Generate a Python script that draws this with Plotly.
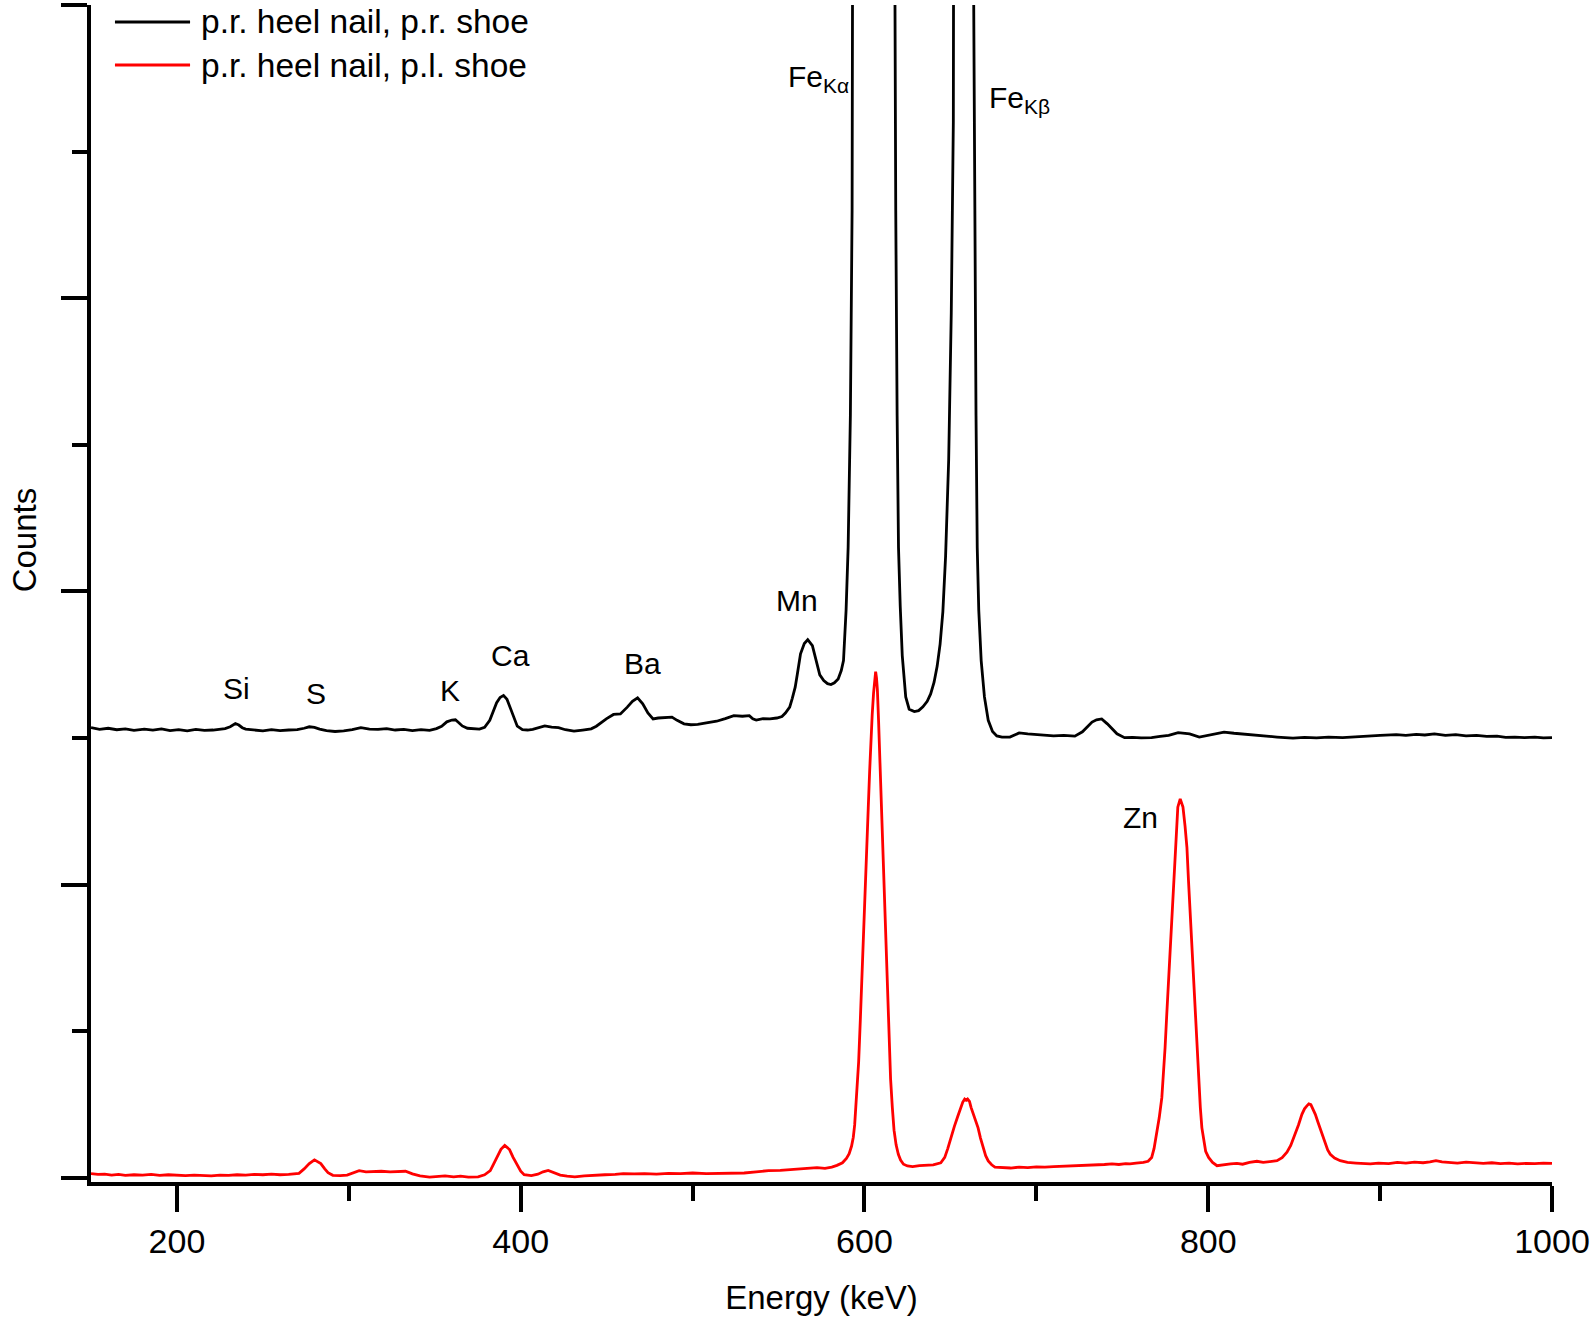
import plotly.graph_objects as go

# ---------------- data ----------------
black_energy = [150, 155, 160, 165, 170, 175, 181, 186, 191, 196, 201, 206, 211, 216, 221, 225, 228, 231, 234, 236,
                238, 240, 245, 250, 255, 260, 265, 270, 274, 277, 280, 283, 287, 292, 297, 302, 307, 312, 317, 322,
                327, 332, 337, 342, 347, 351, 354, 357, 360, 362, 364, 366, 369, 372, 376, 379, 382, 384, 386, 388,
                390, 392, 394, 396, 398, 401, 404, 407, 410, 414, 418, 422, 426, 431, 436, 441, 444, 447, 450, 454,
                458, 462, 465, 468, 471, 474, 477, 480, 484, 488, 491, 495, 499, 503, 508, 514, 519, 524, 529, 533,
                535, 537, 541, 545, 549, 552, 554, 556.5, 558, 559.7, 561, 562.8, 565, 567, 569.7, 572.2, 574, 576.3,
                578.5, 580.5, 582.5, 584.7, 586.5, 587.8, 589.3, 590.5, 591.8, 592.8, 593.5, 594.5, 605, 616.5, 617.6,
                618.2, 619, 619.8, 620.8, 622, 624, 626, 629, 631.5, 634, 636.5, 638.5, 640.5, 642.3, 644, 645.6, 647.2,
                649, 650.5, 651.7, 652.5, 657.5, 662.8, 663.6, 664.3, 664.9, 665.6, 666.5, 667.9, 669.8, 672, 674.5,
                677, 680, 684.6, 687, 690, 695, 700, 705, 710, 716, 722.4, 726.8, 729.5, 732.4, 735, 738, 741.3, 744,
                746.9, 751.3, 756, 761, 767, 772, 777, 782.5, 786, 789.2, 794.8, 799, 802.6, 806, 809.2, 815, 820,
                824.8, 829, 833.7, 840, 849.3, 856, 863, 870, 878.2, 885, 892, 900, 909.4, 915, 921, 926, 931.6, 938,
                944, 950, 956.1, 962, 968, 973, 978.4, 984, 990, 995, 1000]
black_counts = [1535, 1529, 1533, 1528, 1531, 1526, 1530, 1527, 1531, 1525, 1528, 1524, 1529, 1526, 1527, 1530, 1532,
                1538, 1549, 1544, 1535, 1530, 1527, 1524, 1528, 1525, 1527, 1528, 1533, 1538, 1536, 1530, 1525, 1522,
                1524, 1528, 1535, 1530, 1529, 1532, 1527, 1529, 1525, 1528, 1526, 1532, 1540, 1555, 1561, 1562, 1552,
                1541, 1533, 1531, 1530, 1536, 1560, 1590, 1620, 1638, 1645, 1632, 1600, 1568, 1540, 1528, 1527, 1529,
                1535, 1541, 1537, 1535, 1528, 1523, 1527, 1531, 1540, 1554, 1566, 1580, 1582, 1605, 1625, 1637, 1616,
                1585, 1565, 1568, 1570, 1571, 1560, 1548, 1545, 1546, 1551, 1557, 1566, 1576, 1574, 1576, 1565, 1561,
                1566, 1565, 1568, 1573, 1585, 1605, 1635, 1673, 1720, 1787, 1822, 1835, 1815, 1753, 1715, 1696, 1685,
                1682, 1688, 1701, 1730, 1764, 1935, 2150, 2600, 3300, 4100, 6000, 40000, 6000, 4100, 3300, 2600, 2150,
                1950, 1780, 1640, 1598, 1590, 1593, 1606, 1625, 1650, 1690, 1745, 1820, 1930, 2120, 2450,
                2950, 3600, 4800, 25000, 4800, 3900, 3200, 2600, 2150, 1935, 1764, 1640, 1560, 1522,
                1507, 1503, 1503, 1510, 1517,
                1514, 1512, 1510, 1507, 1509, 1506, 1521, 1538, 1554, 1562, 1565, 1548, 1530, 1514, 1501, 1502, 1500,
                1501, 1505, 1509, 1518, 1516, 1514, 1503, 1508, 1514, 1518, 1520, 1516, 1513, 1512, 1509, 1506, 1503,
                1499, 1502, 1500, 1503, 1501, 1504, 1506, 1509, 1511, 1509, 1512, 1510, 1514, 1509, 1511, 1507, 1509,
                1505, 1506, 1502, 1503, 1501, 1503, 1500, 1501]

red_energy = [150, 154, 158, 162, 166, 170, 175, 180, 185, 190, 195, 200, 205, 210, 215, 220, 225, 230, 235, 240,
              245, 250, 255, 260, 265, 268, 271, 274, 277, 280, 282, 283.7, 286, 287.9, 290.7, 295, 299, 302, 306,
              310, 314, 318.9, 324, 328, 333, 337, 341.4, 347, 352, 356, 361, 365, 369.6, 375.2, 379, 382.3, 384.5,
              386.5, 388.5, 390.7, 392.5, 393.5, 395.5, 397.7, 400, 402, 406.2, 410, 413, 416, 419, 423, 427, 431.5,
              437, 443, 449, 455, 459.7, 466, 472, 479, 486, 493, 500, 508, 516, 523, 530, 537, 544.2, 551, 558, 565,
              572.4, 577, 581, 584, 587.2, 589.5, 591.1, 592.5, 593.5, 594.3, 595.1, 596.6, 597.6, 598.6, 599.6,
              600.6, 601.4, 602.2, 603, 603.7, 604.5, 605.3, 606, 606.5, 607, 607.5, 608.2, 608.9, 609.7, 610.5,
              611.2, 612, 612.8, 613.6, 614.4, 615.2, 616.2, 617.2, 618.4, 619.7, 621, 622.7, 625, 628, 632, 636.5,
              640, 644.4, 645.5, 646.7, 648.5, 650.3, 652.3, 654.2, 655.7, 657.2, 658.3, 659.2, 660, 661.1, 662,
              663.1, 664.5, 666.1, 667.5, 669, 670.5, 672, 674, 675.9, 680, 685, 690, 695, 700, 705, 710, 715, 720,
              725, 730, 735, 739.6, 744, 748, 752, 754.5, 758, 762.3, 765, 767.1, 768.5, 770, 771.5, 773, 774, 774.9,
              775.9, 776.9, 777.9, 778.8, 779.8, 780.8, 781.5, 782.3, 783.7, 785.3, 786.5, 787.6, 788.5, 789.5,
              790.5, 791.5, 792.5, 793.4, 794.4, 795.4, 796.3, 797.3, 798.5, 800.2, 802.5, 805.1, 809, 813, 816.7,
              820, 824, 828.3, 832, 836, 840, 843, 845.8, 848, 850.6, 852.5, 854.5, 856, 857.4, 858.5, 859.7, 861,
              862.3, 863.8, 865.2, 866.6, 868.1, 869.5, 871, 873.5, 876.8, 881, 886, 891, 894.3, 899, 905, 910, 915,
              920, 925, 929, 932.5, 936, 940, 945, 950, 955, 960, 965, 970, 975, 980, 985, 990, 995, 1000]
red_counts = [14, 11, 12, 9, 11, 8, 10, 9, 11, 8, 10, 9, 7, 9, 8, 6, 9, 8, 10, 9,
              11, 10, 12, 10, 11, 13, 15, 30, 48, 61, 55, 48, 30, 17, 8, 7, 9, 16, 24,
              20, 21, 22, 20, 22, 22, 13, 6, 2, 4, 6, 3, 5, 2, 3, 10, 24, 50,
              75, 97, 110, 102, 96, 70, 48, 22, 10, 7, 12, 20, 25, 18, 9, 5, 3,
              6, 9, 10, 11, 14, 13, 14, 12, 15, 14, 16, 14, 15, 17, 16, 20, 24, 25, 28, 30,
              34, 32, 36, 42, 51, 66, 82, 108, 138, 180, 243, 394, 540, 683, 830,
              972, 1115, 1261, 1385, 1492, 1580, 1654, 1700, 1726, 1705, 1666, 1560, 1435, 1290, 1146,
              1000, 856, 710, 567, 440, 336, 240, 162, 112, 80, 60, 46, 40, 38, 41, 43,
              44, 51, 58, 69, 100, 138, 175, 208, 237, 258, 268, 264, 268, 260, 240,
              220, 195, 170, 135, 100, 75, 57, 44, 36, 34, 33, 36, 34, 37, 36, 38, 39, 41,
              40, 43, 42, 45, 47, 45, 48, 47, 50, 52, 56, 69, 100, 148, 205, 273, 355, 444,
              560, 672, 785, 899, 1015, 1127, 1200, 1264, 1292, 1264, 1200, 1127, 1015, 899,
              785, 672, 560, 444, 335, 239, 170, 125, 90, 69, 52, 41, 45, 47, 49,
              46, 52, 56, 52, 55, 58, 68, 87, 110, 148, 180, 216, 235, 245, 252, 249, 235,
              216, 190, 165, 140, 114, 95, 80, 67, 58, 52, 50, 48, 47, 50, 48, 52, 50,
              53, 51, 54, 58, 54, 52, 50, 53, 50, 49, 51, 48, 50, 47, 49, 48, 50, 49]

series_names = ["p.r. heel nail, p.r. shoe", "p.r. heel nail, p.l. shoe"]
series_colors = ["#000000", "#ff0000"]

x_tick_values = [200, 400, 600, 800, 1000]
x_tick_labels = ["200", "400", "600", "800", "1000"]

peak_labels = ["Si", "S", "K", "Ca", "Ba", "Mn", "Fe<sub>Kα</sub>", "Fe<sub>Kβ</sub>", "Zn"]
peak_label_x = [234.9, 281.1, 358.6, 394.1, 471.1, 560.5, 573.4, 690.3, 760.5]
peak_label_y = [1670, 1653, 1663, 1781, 1754, 1969, 3750, 3676, 1229]

# ---------------- figure ----------------
FONT = "Arial, 'Liberation Sans', sans-serif"

fig = go.Figure()
for xs, ys, name, color in [(black_energy, black_counts, series_names[0], series_colors[0]),
                            (red_energy, red_counts, series_names[1], series_colors[1])]:
    fig.add_trace(go.Scatter(x=xs, y=ys, mode="lines", name=name,
                             line=dict(color=color, width=2.8), showlegend=False))

# peak labels
for t, x, y in zip(peak_labels, peak_label_x, peak_label_y):
    fig.add_annotation(x=x, y=y, xref="x", yref="y", text=t, showarrow=False,
                       font=dict(family=FONT, size=30, color="#000000"),
                       xanchor="center", yanchor="middle")

# manual legend (long line samples as in the reference)
legend_rows_y = [0.9856, 0.949]
for name, color, ly in zip(series_names, series_colors, legend_rows_y):
    fig.add_shape(type="line", xref="paper", yref="paper", x0=0.0164, x1=0.0678, y0=ly, y1=ly,
                  line=dict(color=color, width=3))
    fig.add_annotation(x=0.0740, y=ly, xref="paper", yref="paper", text=name, showarrow=False,
                       xanchor="left", yanchor="middle",
                       font=dict(family=FONT, size=33.5, color="#000000"))

# y axis title as rotated text
fig.add_annotation(x=-0.0449, y=0.5455, xref="paper", yref="paper", text="Counts", textangle=-90,
                   showarrow=False, xanchor="center", yanchor="middle",
                   font=dict(family=FONT, size=33, color="#000000"))

axis_common = dict(showgrid=False, zeroline=False, showline=True, linecolor="#000000", linewidth=3.5,
                   ticks="outside", ticklen=26, tickwidth=3.5, tickcolor="#000000")

fig.update_xaxes(range=[150, 1000], tickvals=x_tick_values, ticktext=x_tick_labels,
                 tickfont=dict(family=FONT, size=34, color="#000000"),
                 title=dict(text="Energy (keV)", font=dict(family=FONT, size=33, color="#000000"), standoff=28),
                 minor=dict(dtick=100, tick0=0, ticklen=15, tickwidth=3.5, tickcolor="#000000", ticks="outside"),
                 **axis_common)
fig.update_yaxes(range=[-14.7, 4000], tick0=0, dtick=1000, showticklabels=False,
                 minor=dict(dtick=500, tick0=0, ticklen=15, tickwidth=3.5, tickcolor="#000000", ticks="outside"),
                 **axis_common)

fig.update_layout(width=1595, height=1321, margin=dict(l=91, r=43, t=5, b=139),
                  paper_bgcolor="#ffffff", plot_bgcolor="#ffffff",
                  font=dict(family=FONT, color="#000000"))

fig.write_html("out.html", config={"displayModeBar": False},
               post_script="document.body.style.margin='0';document.body.style.overflow='hidden';")
